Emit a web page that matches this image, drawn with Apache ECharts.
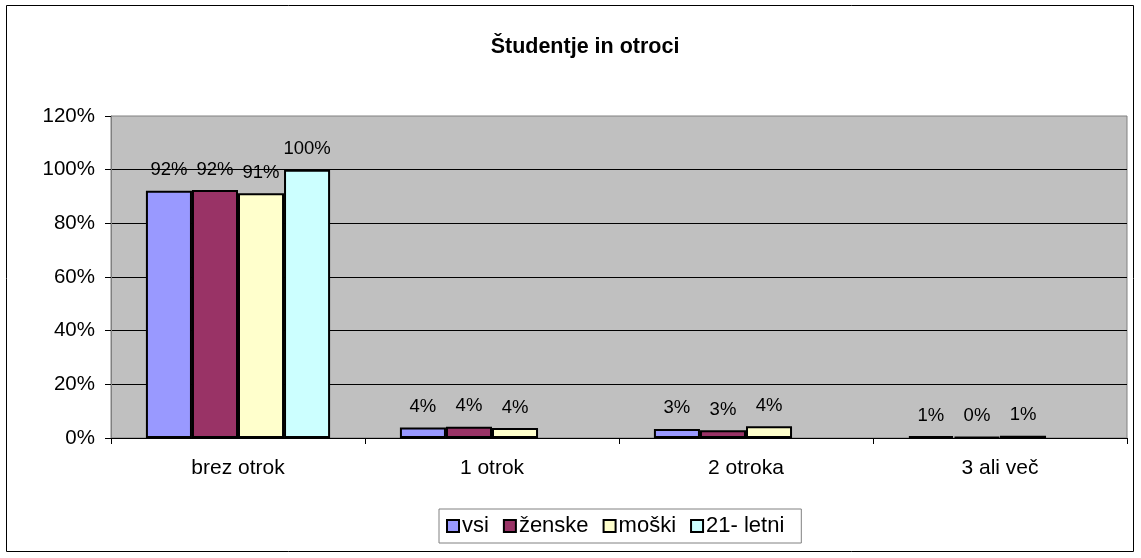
<!DOCTYPE html>
<html>
<head>
<meta charset="utf-8">
<script src="https://cdn.jsdelivr.net/npm/echarts@6/dist/echarts.min.js"></script>
<style>
  html, body { margin: 0; padding: 0; background: #fff; }
  #chart { width: 1141px; height: 558px; }
</style>
</head>
<body>
<div id="chart"></div>
<script>
var categories = ['brez otrok', '1 otrok', '2 otroka', '3 ali več'];
var seriesNames = ['vsi', 'ženske', 'moški', '21- letni'];
var vsi = [92.1, 3.9, 3.4, 0.7];
var zenske = [92.4, 4.2, 2.9, 0.4];
var moski = [91.2, 3.7, 4.4, 0.8];
var letni21 = [100, null, null, null];
var colors = ['#9999FF', '#993366', '#FFFFCC', '#CCFFFF'];
var yTicks = [0, 20, 40, 60, 80, 100, 120];

var font = 'Arial, "Liberation Sans", sans-serif';
var allValues = [vsi, zenske, moski, letni21];

var series = [];
for (var i = 0; i < seriesNames.length; i++) {
  series.push({
    name: seriesNames[i],
    type: 'bar',
    data: allValues[i],
    barGap: '0%',
    barCategoryGap: '27.5%',
    itemStyle: { color: colors[i], borderColor: '#000', borderWidth: 2 },
    label: {
      show: true,
      position: 'top',
      distance: 11,
      color: '#000',
      fontFamily: font,
      fontSize: 18.5,
      formatter: function (p) { return Math.round(p.value) + '%'; }
    }
  });
}

var chart = echarts.init(document.getElementById('chart'));
chart.setOption({
  animation: false,
  backgroundColor: '#fff',
  color: colors,
  title: {
    text: 'Študentje in otroci',
    left: 580,
    top: 31,
    textAlign: 'center',
    textStyle: { fontFamily: font, fontSize: 21.5, fontWeight: 'bold', color: '#000' }
  },
  graphic: [{
    type: 'rect',
    shape: { x: 6.5, y: 5.5, width: 1127, height: 546 },
    style: { fill: 'none', stroke: '#000', lineWidth: 1 },
    silent: true,
    z: -1
  }],
  legend: {
    data: seriesNames,
    left: 439,
    top: 509,
    orient: 'horizontal',
    icon: 'rect',
    itemWidth: 12,
    itemHeight: 12,
    itemGap: 14,
    padding: [6, 17, 6, 7],
    borderColor: '#808080',
    borderWidth: 1,
    itemStyle: { borderColor: '#000', borderWidth: 2 },
    textStyle: { fontFamily: font, fontSize: 22, color: '#000', padding: [0, 0, 0, -2] }
  },
  grid: {
    left: 111,
    right: 14,
    top: 116,
    bottom: 120,
    show: true,
    backgroundColor: '#C0C0C0',
    borderColor: '#808080',
    borderWidth: 1
  },
  xAxis: {
    type: 'category',
    data: categories,
    axisLine: { lineStyle: { color: '#000', width: 1 } },
    axisTick: { show: true, length: 6, lineStyle: { color: '#000' } },
    axisLabel: { color: '#000', fontFamily: font, fontSize: 21, margin: 20 }
  },
  yAxis: {
    type: 'value',
    min: yTicks[0],
    max: yTicks[yTicks.length - 1],
    interval: 20,
    axisLine: { show: true, lineStyle: { color: '#808080', width: 1 } },
    axisTick: { show: true, length: 6, lineStyle: { color: '#000' } },
    axisLabel: { color: '#000', fontFamily: font, fontSize: 20.5, margin: 16, formatter: '{value}%' },
    splitLine: { show: true, showMaxLine: false, lineStyle: { color: '#000', width: 1 } }
  },
  series: series
});
</script>
</body>
</html>
